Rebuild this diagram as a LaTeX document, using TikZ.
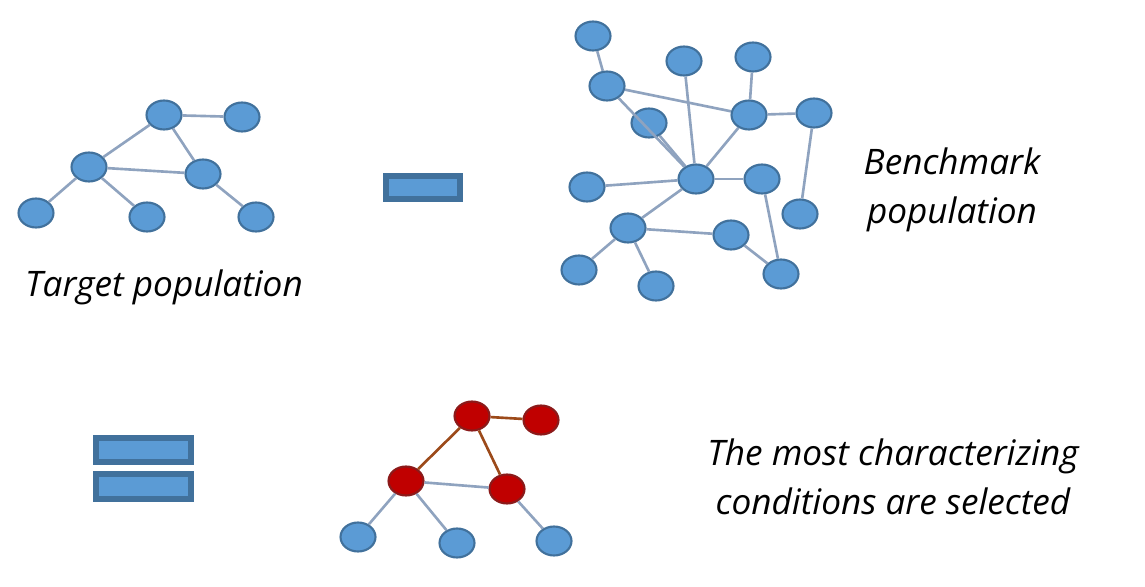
\documentclass[tikz,border=0pt]{standalone}
\usepackage{fontspec}
\setmainfont{Open Sans}
\usetikzlibrary{shapes.geometric}
\definecolor{nodeblue}{HTML}{5B9BD5}
\definecolor{nodeline}{HTML}{41719C}
\definecolor{edgegrey}{HTML}{8FA3BF}
\definecolor{nodered}{HTML}{C00000}
\definecolor{redline}{HTML}{8B1A1A}
\definecolor{edgebrown}{HTML}{9C4A1A}

\begin{document}
\begin{tikzpicture}[x=0.02cm, y=-0.02cm,
  vert/.style={
    ellipse,
    draw=nodeline,
    fill=nodeblue,
    line width=1.2pt,
    minimum width=0.7cm,
    minimum height=0.58cm,
    inner sep=0pt
  },
  hot/.style={
    vert,
    draw=redline,
    fill=nodered
  },
  link/.style={
    draw=edgegrey,
    line width=1.5pt
  },
  hotlink/.style={
    draw=edgebrown,
    line width=1.5pt
  },
  bar/.style={
    draw=nodeline,
    fill=nodeblue,
    line width=3pt
  },
  caption/.style={
    font=\fontsize{20}{28}\selectfont\itshape,
    align=center
  }
]
\useasboundingbox (0,0) rectangle (1145,587);

% Target population
\node[vert] (a1) at (164,115) {};
\node[vert] (a2) at (242,117) {};
\node[vert] (a3) at (89,167)  {};
\node[vert] (a4) at (203,174) {};
\node[vert] (a5) at (36,213)  {};
\node[vert] (a6) at (147,217) {};
\node[vert] (a7) at (256,217) {};
\foreach \u/\v in {a1/a2, a1/a3, a1/a4, a3/a4, a3/a5, a3/a6, a4/a7}
  \draw[link] (\u) -- (\v);
\node[caption] (tlabel) at (164,287) {Target population};

% Minus sign
\draw[bar] (386,176) rectangle (460,199);

% Benchmark population
\node[vert] (b1)  at (593,36)  {};
\node[vert] (b2)  at (607,86)  {};
\node[vert] (b3)  at (684,61)  {};
\node[vert] (b4)  at (753,57)  {};
\node[vert] (b5)  at (649,123) {};
\node[vert] (b6)  at (749,115) {};
\node[vert] (b7)  at (814,113) {};
\node[vert] (b8)  at (587,187) {};
\node[vert] (b9)  at (696,179) {};
\node[vert] (b10) at (762,179) {};
\node[vert] (b11) at (800,214) {};
\node[vert] (b12) at (628,228) {};
\node[vert] (b13) at (731,235) {};
\node[vert] (b14) at (579,270) {};
\node[vert] (b15) at (656,286) {};
\node[vert] (b16) at (781,274) {};
\foreach \u/\v in {b1/b2, b2/b6, b2/b9, b3/b9, b4/b6, b6/b7, b6/b9, b5/b9,
                   b8/b9, b9/b10, b9/b12, b7/b11, b10/b16, b12/b13, b13/b16,
                   b12/b14, b12/b15}
  \draw[link] (\u) -- (\v);
\node[caption] (blabel) at (952,190) {Benchmark\\population};

% Equals sign
\draw[bar] (96,438) rectangle (191,462);
\draw[bar] (96,474) rectangle (191,499);

% Selected conditions
\node[hot]  (r1) at (472,416) {};
\node[hot]  (r2) at (541,420) {};
\node[hot]  (r3) at (406,481) {};
\node[hot]  (r4) at (507,489) {};
\node[vert] (c1) at (358,537) {};
\node[vert] (c2) at (457,543) {};
\node[vert] (c3) at (554,541) {};
\foreach \u/\v in {r3/r4, r3/c1, r3/c2, r4/c3}
  \draw[link] (\u) -- (\v);
\foreach \u/\v in {r1/r2, r1/r3, r1/r4}
  \draw[hotlink] (\u) -- (\v);
\node[caption] (slabel) at (893,477) {The most characterizing\\conditions are selected};
\end{tikzpicture}
\end{document}
